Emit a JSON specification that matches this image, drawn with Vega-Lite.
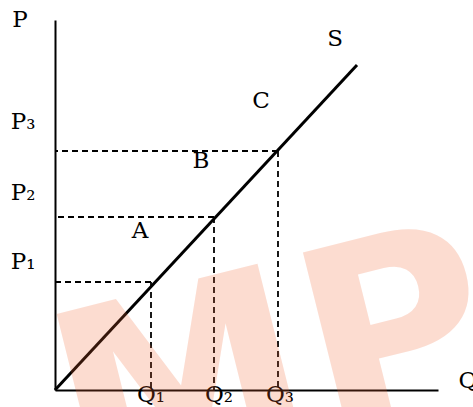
{
  "$schema": "https://vega.github.io/schema/vega-lite/v6.json",
  "width": 383,
  "height": 370,
  "autosize": {"type": "none"},
  "padding": {"left": 55, "top": 20, "right": 35, "bottom": 17},
  "background": "white",
  "config": {"view": {"stroke": null}},
  "datasets": {
    "supply": [{"q": 0, "p": 0}, {"q": 30.2, "p": 32.5}],
    "levels": [
      {"name": "1", "q": 9.6, "p": 10.8},
      {"name": "2", "q": 15.9, "p": 17.3},
      {"name": "3", "q": 22.3, "p": 23.9}
    ],
    "labels": [
      {"label": "P", "q": -3.5, "p": 37.0},
      {"label": "P₃", "q": -3.2, "p": 26.8},
      {"label": "P₂", "q": -3.2, "p": 19.7},
      {"label": "P₁", "q": -3.2, "p": 12.8},
      {"label": "Q", "q": 41.3, "p": 0.9},
      {"label": "Q₁", "q": 9.6, "p": -0.5},
      {"label": "Q₂", "q": 16.4, "p": -0.5},
      {"label": "Q₃", "q": 22.5, "p": -0.5},
      {"label": "A", "q": 8.5, "p": 15.9},
      {"label": "B", "q": 14.6, "p": 22.9},
      {"label": "C", "q": 20.6, "p": 28.9},
      {"label": "S", "q": 28.0, "p": 35.1}
    ],
    "wmRight": [{"text": "MPLE", "q": 2.4, "p": -11.0}],
    "wmLeft": [{"text": "SA", "q": -1.5, "p": -12.0}]
  },
  "layer": [
    {
      "data": {"name": "levels"},
      "mark": {"type": "rule", "color": "black", "strokeWidth": 1.8, "strokeDash": [6, 4]},
      "encoding": {
        "x": {"field": "q", "type": "quantitative", "scale": {"domain": [0, 38.3], "nice": false, "zero": false}, "axis": {"domain": true, "domainColor": "black", "domainWidth": 1.8, "ticks": false, "labels": false, "grid": false, "title": null}},
        "x2": {"datum": 0},
        "y": {"field": "p", "type": "quantitative", "scale": {"domain": [0, 37], "nice": false, "zero": false}, "axis": {"domain": true, "domainColor": "black", "domainWidth": 2, "ticks": false, "labels": false, "grid": false, "title": null}}
      }
    },
    {
      "data": {"name": "levels"},
      "mark": {"type": "rule", "color": "black", "strokeWidth": 1.8, "strokeDash": [6, 4]},
      "encoding": {
        "x": {"field": "q", "type": "quantitative"},
        "y": {"field": "p", "type": "quantitative"},
        "y2": {"datum": 0}
      }
    },
    {
      "data": {"name": "supply"},
      "mark": {"type": "line", "color": "black", "strokeWidth": 3},
      "encoding": {
        "x": {"field": "q", "type": "quantitative"},
        "y": {"field": "p", "type": "quantitative"}
      }
    },
    {
      "data": {"name": "labels"},
      "mark": {"type": "text", "font": "DejaVu Serif", "fontSize": 23, "color": "black", "align": "center", "baseline": "middle"},
      "encoding": {
        "x": {"field": "q", "type": "quantitative"},
        "y": {"field": "p", "type": "quantitative"},
        "text": {"field": "label"}
      }
    },
    {
      "data": {"name": "wmRight"},
      "mark": {"type": "text", "font": "DejaVu Sans", "fontWeight": "bold", "fontSize": 255, "color": "#f26430", "opacity": 0.22, "angle": -14, "align": "left", "baseline": "alphabetic"},
      "encoding": {
        "x": {"field": "q", "type": "quantitative"},
        "y": {"field": "p", "type": "quantitative"},
        "text": {"field": "text"}
      }
    },
    {
      "data": {"name": "wmLeft"},
      "mark": {"type": "text", "font": "DejaVu Sans", "fontWeight": "bold", "fontSize": 255, "color": "#f26430", "opacity": 0.22, "angle": -14, "align": "right", "baseline": "alphabetic"},
      "encoding": {
        "x": {"field": "q", "type": "quantitative"},
        "y": {"field": "p", "type": "quantitative"},
        "text": {"field": "text"}
      }
    }
  ]
}
